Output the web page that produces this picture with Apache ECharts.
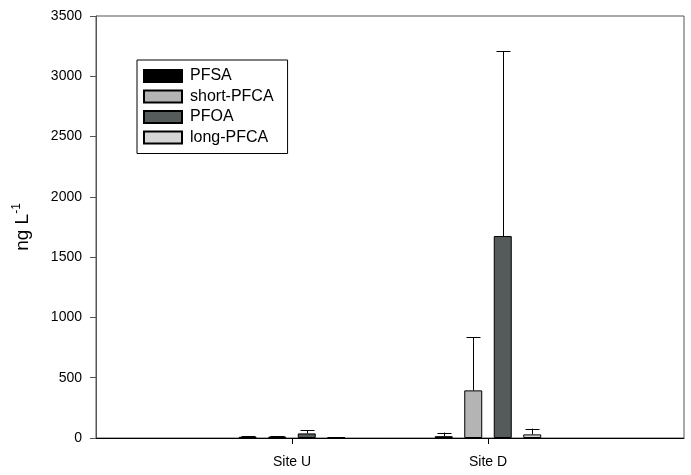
<!DOCTYPE html>
<html>
<head>
<meta charset="utf-8">
<script src="https://cdn.jsdelivr.net/npm/echarts@6/dist/echarts.min.js"></script>
<style>
    html, body { margin: 0; padding: 0; background: #fff; }
    #chart { width: 691px; height: 475px; }
</style>
</head>
<body>
<div id="chart"></div>
<script>
// sites sit at x = 1 and 2 on a 0..3 axis
const sites = ['Site U', 'Site D']
const siteX = [1, 2]
const yTicks = [0, 500, 1000, 1500, 2000, 2500, 3000, 3500]

const groups = ['PFSA', 'short-PFCA', 'PFOA', 'long-PFCA']
const colors = ['#000000', '#b4b4b4', '#555a5a', '#d6d6d6']

// mean values per group, [Site U, Site D]
const pfsa = [10, 15]
const shortPfca = [12, 395]
const pfoa = [38, 1675]
const longPfca = [4, 30]
// upper error (sd)
const pfsaErr = [4, 30]
const shortPfcaErr = [5, 440]
const pfoaErr = [25, 1535]
const longPfcaErr = [2, 47]

const means = [pfsa, shortPfca, pfoa, longPfca]
const errs = [pfsaErr, shortPfcaErr, pfoaErr, longPfcaErr]

const barW = 18
const gapPx = 11.5

const chart = echarts.init(document.getElementById('chart'))

const barSeries = groups.map((name, i) => ({
    name: name,
    type: 'bar',
    barWidth: barW,
    barGap: (gapPx / barW * 100).toFixed(1) + '%',
    itemStyle: {
        color: colors[i],
        borderColor: '#000',
        borderWidth: 1
    },
    data: siteX.map((x, j) => [x, means[i][j]])
}))

const errSeries = groups.map((name, i) => ({
    name: name + '-err',
    type: 'custom',
    silent: true,
    z: 3,
    renderItem: (params, api) => {
        const x = api.value(0)
        const top = api.coord([x, api.value(1) + api.value(2)])
        const base = api.coord([x, api.value(1)])
        const off = (i - 1.5) * (barW + gapPx)
        const cx = Math.round(base[0] + off) + 0.5
        const style = { stroke: '#000', lineWidth: 1 }
        return {
            type: 'group',
            children: [
                { type: 'line', shape: { x1: cx, y1: base[1], x2: cx, y2: top[1] }, style: style },
                { type: 'line', shape: { x1: cx - 7, y1: Math.round(top[1]) + 0.5, x2: cx + 7, y2: Math.round(top[1]) + 0.5 }, style: style }
            ]
        }
    },
    data: siteX.map((x, j) => [x, means[i][j], errs[i][j]])
}))

const option = {
    animation: false,
    backgroundColor: '#fff',
    textStyle: { fontFamily: 'Liberation Sans, Arial, sans-serif' },
    grid: {
        left: 96,
        right: 7,
        top: 16,
        bottom: 37,
        show: true,
        borderColor: '#555',
        borderWidth: 1
    },
    legend: {
        data: groups,
        orient: 'vertical',
        left: 137,
        top: 60,
        itemWidth: 38,
        itemHeight: 12,
        itemGap: 2.5,
        padding: [7, 14, 7, 6],
        borderColor: '#000',
        borderWidth: 1,
        icon: 'rect',
        selectedMode: false,
        textStyle: { color: '#000', fontSize: 16, lineHeight: 18, padding: [0, 0, 0, 3] }
    },
    xAxis: {
        type: 'value',
        min: 0,
        max: 3,
        interval: 1,
        splitLine: { show: false },
        axisLine: { lineStyle: { color: '#000', width: 1 } },
        axisTick: { show: true, length: 6, customValues: siteX, lineStyle: { color: '#000' } },
        axisLabel: {
            customValues: siteX,
            color: '#000',
            fontSize: 14,
            margin: 17,
            formatter: v => {
                const k = siteX.indexOf(v)
                return k >= 0 ? sites[k] : ''
            }
        }
    },
    yAxis: {
        type: 'value',
        min: yTicks[0],
        max: yTicks[yTicks.length - 1],
        interval: 500,
        name: '{a|ng L}{b|-1}',
        nameLocation: 'middle',
        nameRotate: 90,
        nameGap: 61,
        nameTextStyle: {
            rich: {
                a: { fontSize: 19, color: '#000', lineHeight: 24 },
                b: { fontSize: 12, color: '#000', verticalAlign: 'top', lineHeight: 24 }
            }
        },
        splitLine: { show: false },
        axisLine: { show: true, lineStyle: { color: '#555', width: 1 } },
        axisTick: { show: true, length: 6, lineStyle: { color: '#555' } },
        axisLabel: { color: '#000', fontSize: 14, margin: 14, formatter: v => String(v) }
    },
    series: barSeries.concat(errSeries)
}

chart.setOption(option)
</script>
</body>
</html>
